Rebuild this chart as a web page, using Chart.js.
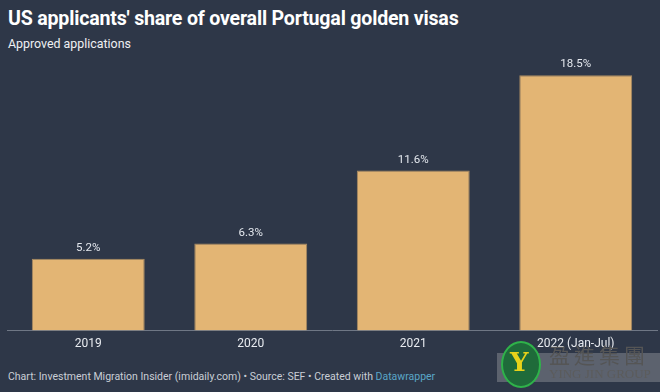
<!DOCTYPE html>
<html>
<head>
<meta charset="utf-8">
<script src="https://cdn.jsdelivr.net/npm/chart.js@4"></script>
<style>
  html, body { margin: 0; padding: 0; }
  body { width: 660px; height: 392px; background: #2e3748; position: relative; overflow: hidden; font-family: Roboto, sans-serif; }
  #title { position: absolute; left: 8px; top: 7px; font-size: 19.6px; font-weight: bold; color: #ffffff; letter-spacing: -0.2px; }
  #subtitle { position: absolute; left: 8px; top: 36px; font-size: 12.4px; color: #eef0f3; }
  #wrap { position: absolute; left: 0; top: 50px; width: 660px; height: 310px; }
  #footer { position: absolute; left: 8px; top: 370px; font-size: 10.5px; color: #c9ced6; }
  #footer span { color: #5aa6c7; }
  #wm { position: absolute; left: 497px; top: 341px; width: 163px; height: 51px; }
  #wm .box { position: absolute; left: 0; top: 12px; width: 163px; height: 29px; background: rgba(200,200,200,0.3); }
  #wm .ring { position: absolute; left: 4px; top: 0; width: 36px; height: 43px; border-radius: 50%; border: 2px solid #2fb24a; background: #1f6b3a; }
  #wm .y { position: absolute; left: 13px; top: 6px; font-size: 26px; font-weight: bold; color: #e8d21a; font-family: "DejaVu Serif", serif; }
  #wm .cn { position: absolute; left: 52px; top: -2px; font-size: 21px; color: #555; font-family: "Noto Sans CJK TC", sans-serif; letter-spacing: 4px; }
  #wm .en { position: absolute; left: 52px; top: 25px; font-size: 13px; color: #5c5c5c; font-family: "Liberation Serif", serif; }
</style>
</head>
<body>
<div id="title">US applicants' share of overall Portugal golden visas</div>
<div id="subtitle">Approved applications</div>
<div id="wrap"><canvas id="chart"></canvas></div>
<div id="footer">Chart: Investment Migration Insider (imidaily.com) • Source: SEF • Created with <span>Datawrapper</span></div>
<div id="wm">
  <div class="box"></div>
  <div class="ring"></div>
  <div class="y">Y</div>
  <div class="cn">盈進集團</div>
  <div class="en">YING JIN GROUP</div>
</div>
<script>
const years = ['2019', '2020', '2021', '2022 (Jan-Jul)'];
const usShare = [5.2, 6.3, 11.6, 18.5];

const valueLabels = {
  id: 'valueLabels',
  afterDatasetsDraw(chart) {
    const ctx = chart.ctx;
    const meta = chart.getDatasetMeta(0);
    ctx.save();
    ctx.font = '11.5px Roboto, sans-serif';
    ctx.fillStyle = '#e4e8ee';
    ctx.textAlign = 'center';
    ctx.textBaseline = 'bottom';
    meta.data.forEach((bar, i) => {
      ctx.fillText(usShare[i].toFixed(1) + '%', bar.x, bar.y - 5);
    });
    ctx.restore();
  }
};

new Chart('chart', {
  type: 'bar',
  data: {
    labels: years,
    datasets: [{
      data: usShare,
      backgroundColor: '#e3b574',
      borderColor: '#a88a62',
      borderWidth: 1,
      barPercentage: 0.695,
      categoryPercentage: 1
    }]
  },
  options: {
    responsive: true,
    maintainAspectRatio: false,
    animation: false,
    layout: { padding: { left: 7, right: 3, top: 10, bottom: 3 } },
    plugins: { legend: { display: false }, tooltip: { enabled: false } },
    scales: {
      x: {
        grid: { display: false, drawTicks: false },
        border: { display: true, color: '#6f7785', width: 1 },
        ticks: { color: '#e8ebf0', font: { family: 'Roboto', size: 12 }, padding: 6, maxRotation: 0 }
      },
      y: {
        display: false,
        min: 0,
        max: 19.6
      }
    }
  },
  plugins: [valueLabels]
});
</script>
</body>
</html>
